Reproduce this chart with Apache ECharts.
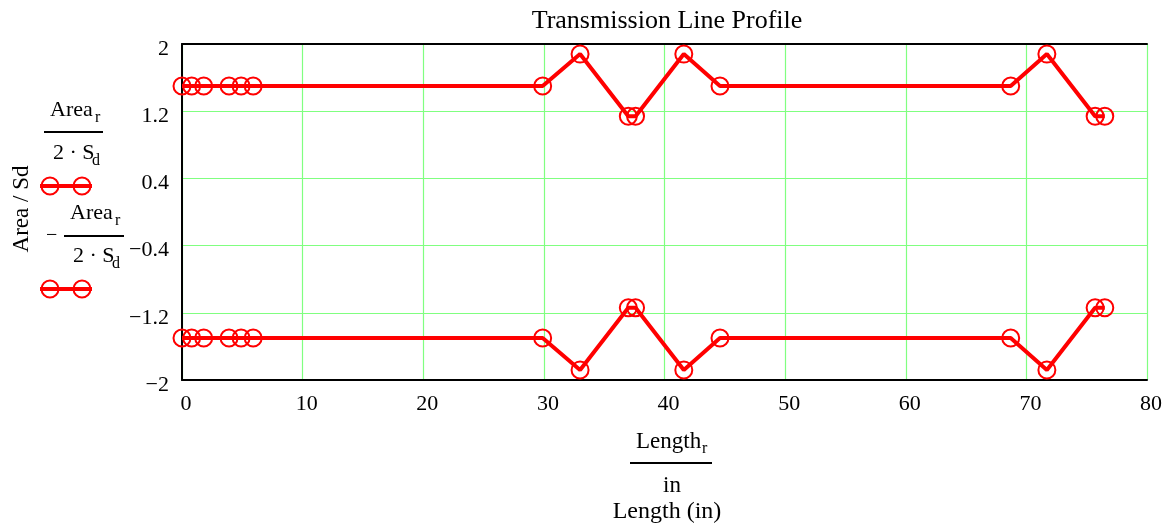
<!DOCTYPE html>
<html>
<head>
<meta charset="utf-8">
<script src="https://cdn.jsdelivr.net/npm/echarts@6/dist/echarts.min.js"></script>
<style>
html, body { margin: 0; padding: 0; background: #fff; }
#main { width: 1174px; height: 527px; }
</style>
</head>
<body>
<div id="main"></div>
<script>
// Length_r / in
var lengthR = [0, 0.8, 1.8, 3.9, 4.9, 5.9, 29.9, 33.0, 37.0, 37.6, 41.6, 44.6, 68.7, 71.7, 75.7, 76.5];
// Area_r / (2 Sd)
var areaPos = [1.5, 1.5, 1.5, 1.5, 1.5, 1.5, 1.5, 1.88, 1.14, 1.14, 1.88, 1.5, 1.5, 1.88, 1.14, 1.14];
// - Area_r / (2 Sd)
var areaNeg = [-1.5, -1.5, -1.5, -1.5, -1.5, -1.5, -1.5, -1.88, -1.14, -1.14, -1.88, -1.5, -1.5, -1.88, -1.14, -1.14];
var yTicks = [-2, -1.2, -0.4, 0.4, 1.2, 2];

var FONT = 'Liberation Serif';
var RED = '#ff0000';
var GREEN = '#80ff80';

function pairs(xs, ys) {
  var out = [];
  for (var i = 0; i < xs.length; i++) out.push([xs[i], ys[i]]);
  return out;
}

function txt(s, x, y, size, align) {
  return {
    type: 'text', x: x, y: y, silent: true,
    style: { text: s, fill: '#000', font: size + 'px "' + FONT + '"',
             textAlign: align || 'left', textVerticalAlign: 'middle' }
  };
}
function bar(x1, x2, y) {
  return { type: 'line', silent: true, shape: { x1: x1, y1: y, x2: x2, y2: y },
           style: { stroke: '#000', lineWidth: 2 } };
}
function legendSym(y) {
  return [
    { type: 'line', silent: true, shape: { x1: 40, y1: y, x2: 92, y2: y }, style: { stroke: RED, lineWidth: 4 } },
    { type: 'circle', silent: true, shape: { cx: 50, cy: y, r: 8.5 }, style: { fill: 'none', stroke: RED, lineWidth: 2 } },
    { type: 'circle', silent: true, shape: { cx: 82, cy: y, r: 8.5 }, style: { fill: 'none', stroke: RED, lineWidth: 2 } }
  ];
}

var graphics = [
  txt('Transmission Line Profile', 667, 21, 26, 'center'),
  // y axis title
  { type: 'text', x: 22, y: 209, rotation: Math.PI / 2, silent: true,
    style: { text: 'Area / Sd', fill: '#000', font: '23px "' + FONT + '"', textAlign: 'center', textVerticalAlign: 'middle' } },
  // first fraction
  txt('Area', 50, 110, 22), txt('r', 95, 118, 16),
  bar(44, 103, 132),
  txt('2 \u00b7 S', 53, 153, 22), txt('d', 92, 161, 16),
  // second fraction
  txt('\u2212', 46, 236, 20),
  txt('Area', 70, 213, 22), txt('r', 115, 221, 16),
  bar(64, 124, 236),
  txt('2 \u00b7 S', 73, 256, 22), txt('d', 112, 264, 16),
  // x axis name
  txt('Length', 636, 442, 23), txt('r', 702, 449, 16),
  bar(630, 712, 463),
  txt('in', 672, 486, 23, 'center'),
  txt('Length (in)', 667, 512, 24, 'center')
].concat(legendSym(186)).concat(legendSym(289));

var lineSeries = function (data) {
  return {
    type: 'line',
    data: data,
    symbol: 'circle',
    symbolSize: 17,
    showAllSymbol: true,
    clip: true,
    lineStyle: { color: RED, width: 4 },
    itemStyle: { color: 'rgba(0,0,0,0)', borderColor: RED, borderWidth: 2 },
    emphasis: { disabled: true }
  };
};

var option = {
  animation: false,
  backgroundColor: '#fff',
  grid: { left: 182, top: 44, width: 965, height: 336, containLabel: false },
  xAxis: [{
    type: 'value', min: 0, max: 80, interval: 10, position: 'bottom',
    axisLine: { show: true, onZero: false, lineStyle: { color: '#000', width: 2 } },
    axisTick: { show: false },
    axisLabel: { color: '#000', fontFamily: FONT, fontSize: 22, margin: 13, padding: [0, 0, 0, 8] },
    splitLine: { show: true, lineStyle: { color: GREEN, width: 1.2 } }
  }, {
    type: 'value', min: 0, max: 80, position: 'top',
    axisLine: { show: true, onZero: false, lineStyle: { color: '#000', width: 2 } },
    axisTick: { show: false }, axisLabel: { show: false }, splitLine: { show: false }
  }],
  yAxis: {
    type: 'value', min: -2, max: 2,
    axisLine: { show: true, onZero: false, lineStyle: { color: '#000', width: 2 } },
    axisTick: { show: false, customValues: yTicks },
    axisLabel: {
      customValues: yTicks, color: '#000', fontFamily: FONT, fontSize: 22, margin: 13,
      verticalAlign: 'top', lineHeight: 10,
      formatter: function (v) { return String(v).replace('-', '\u2212'); }
    },
    splitLine: { show: true, lineStyle: { color: GREEN, width: 1.2 } }
  },
  series: [lineSeries(pairs(lengthR, areaPos)), lineSeries(pairs(lengthR, areaNeg))],
  graphic: graphics
};

var myChart = echarts.init(document.getElementById('main'));
myChart.setOption(option);
</script>
</body>
</html>
